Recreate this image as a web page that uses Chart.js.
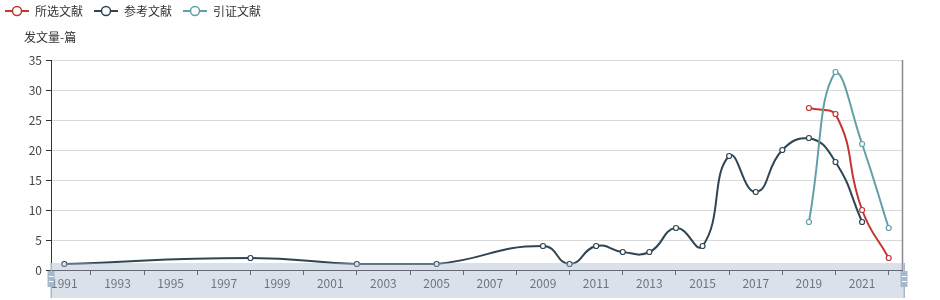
<!DOCTYPE html>
<html>
<head>
<meta charset="utf-8">
<script src="https://cdn.jsdelivr.net/npm/chart.js@4.4.1/dist/chart.umd.min.js"></script>
<style>
html,body{margin:0;padding:0;background:#fff;}
#wrap{width:940px;height:300px;}
</style>
</head>
<body>
<div id="wrap"><canvas id="c" width="940" height="300"></canvas></div>
<script>
// ---- data ----
const categories = ['1991','1992','1993','1994','1995','1996','1997','1998','1999','2000',
  '2001','2002','2003','2004','2005','2006','2007','2008','2009','2010',
  '2011','2012','2013','2014','2015','2016','2017','2018','2019','2020','2021','2022'];
const seriesNames = ['所选文献','参考文献','引证文献'];
const selectedDocs = [null,null,null,null,null,null,null,null,null,null,
  null,null,null,null,null,null,null,null,null,null,
  null,null,null,null,null,null,null,null,27,26,10,2];
const referenceDocs = [1,null,null,null,null,null,null,2,null,null,
  null,1,null,null,1,null,null,null,4,1,
  4,3,3,7,4,19,13,20,22,18,8,null];
const citingDocs = [null,null,null,null,null,null,null,null,null,null,
  null,null,null,null,null,null,null,null,null,null,
  null,null,null,null,null,null,null,null,8,33,21,7];
const yAxisName = '发文量-篇';
const colors = ['#c23531','#2f4554','#61a0a8'];

Chart.defaults.font.family = "'Noto Sans CJK SC','Noto Sans',sans-serif";
Chart.defaults.font.size = 12;
Chart.defaults.color = '#333';

function makeIcon(color){
  const c = document.createElement('canvas');
  c.width = 24; c.height = 12;
  const g = c.getContext('2d');
  g.strokeStyle = color; g.lineWidth = 2;
  g.beginPath(); g.moveTo(0,6); g.lineTo(24,6); g.stroke();
  g.fillStyle = '#fff'; g.lineWidth = 1.5;
  g.beginPath(); g.arc(12,6,4.5,0,Math.PI*2); g.fill(); g.stroke();
  return c;
}
const icons = colors.map(makeIcon);

const tweak = {
  id: 'tweak',
  afterLayout(chart){
    const lg = chart.legend;
    lg.top -= 6; lg.bottom -= 6; lg.left -= 6;
    const t = chart.titleBlock;
    if (t) { t.left = 24; }
  },
  beforeDatasetDraw(chart, args){
    // constrain bezier control points to the series' own bounding box (smooth constraint)
    try {
      const meta = args.meta;
      const line = meta.dataset;
      if (!line || !line.updateControlPoints) return;
      line.updateControlPoints(chart.chartArea, 'x');
      const pts = meta.data.filter(p => !p.skip && isFinite(p.y));
      if (!pts.length) return;
      const ys = pts.map(p => p.y);
      const lo = Math.min(...ys), hi = Math.max(...ys);
      const cl = v => Math.min(hi, Math.max(lo, v));
      pts.forEach(p => {
        if (isFinite(p.cp1y)) p.cp1y = cl(p.cp1y);
        if (isFinite(p.cp2y)) p.cp2y = cl(p.cp2y);
      });
    } catch (e) {}
  },
  afterDraw(chart){
    const ctx = chart.ctx;
    const a = chart.chartArea;
    ctx.save();
    // right frame line
    ctx.strokeStyle = '#888'; ctx.lineWidth = 1.5;
    ctx.beginPath(); ctx.moveTo(a.right + 0.5, a.top); ctx.lineTo(a.right + 0.5, a.bottom); ctx.stroke();
    // data zoom slider
    ctx.fillStyle = 'rgba(167,183,204,0.42)';
    ctx.fillRect(a.left, 263, 853, 35);
    ctx.fillStyle = '#a7b7cc';
    [a.left, a.left + 853].forEach(x => {
      ctx.fillRect(x - 0.5, 263, 1.5, 35);
      ctx.fillRect(x - 3.5, 271, 7, 16);
    });
    ctx.fillStyle = '#fff';
    [a.left, a.left + 853].forEach(x => {
      ctx.fillRect(x - 2, 276, 4.5, 1);
      ctx.fillRect(x - 2, 281, 4.5, 1);
    });
    ctx.restore();
  }
};

function ds(i, data, order){
  return {
    label: seriesNames[i], data: data,
    borderColor: colors[i], backgroundColor: '#fff',
    pointBackgroundColor: '#fff', pointBorderColor: colors[i],
    pointRadius: 2.5, pointBorderWidth: 1.2,
    borderWidth: 2, tension: 0.5, spanGaps: true, order: order
  };
}

new Chart(document.getElementById('c'), {
  type: 'line',
  data: {
    labels: categories,
    datasets: [ds(0, selectedDocs, 3), ds(1, referenceDocs, 2), ds(2, citingDocs, 1)]
  },
  plugins: [tweak],
  options: {
    responsive: false, animation: false, devicePixelRatio: 1,
    layout: { padding: { left: 0, right: 38, top: 0, bottom: 0 } },
    plugins: {
      legend: {
        position: 'top', align: 'start', maxHeight: 24,
        labels: {
          usePointStyle: true, pointStyleWidth: 24, padding: 11, color: '#333',
          font: { size: 12 },
          generateLabels(chart){
            return chart.data.datasets.map((d, i) => ({
              text: d.label, pointStyle: icons[i], fillStyle: 'transparent',
              strokeStyle: 'transparent', lineWidth: 0, hidden: false,
              datasetIndex: i, fontColor: '#333'
            }));
          }
        }
      },
      title: {
        display: true, text: yAxisName, position: 'top', align: 'start',
        fullSize: false, weight: 500, color: '#333',
        font: { size: 12, weight: 'normal' },
        padding: { top: 6.3, bottom: 15.3 }
      },
      tooltip: { enabled: false }
    },
    scales: {
      x: {
        type: 'category', offset: true,
        grid: { display: true, drawOnChartArea: false, offset: true, tickLength: 5, color: '#333', tickColor: '#333' },
        border: { display: true, color: '#333', width: 1 },
        ticks: {
          autoSkip: false, maxRotation: 0, minRotation: 0, padding: 1, color: '#444',
          callback: (v, i) => (i % 2 === 0 ? categories[i] : null)
        },
        afterFit(s){ s.height = 30; }
      },
      y: {
        min: 0, max: 35,
        ticks: { stepSize: 5, padding: 4, color: '#444' },
        grid: { color: '#d9d9d9', tickLength: 5, tickColor: '#333' },
        border: { color: '#333', width: 1 },
        afterFit(s){ s.width = 51; }
      }
    }
  }
});
</script>
</body>
</html>
